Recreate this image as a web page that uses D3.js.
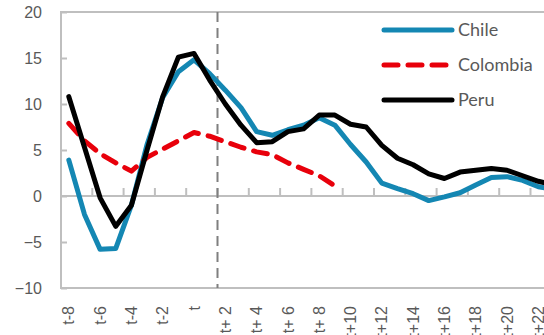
<!DOCTYPE html>
<html>
<head>
<meta charset="utf-8">
<style>
body { margin: 0; background: #fff; }
svg { display: block; font-family: Lato, "Open Sans", sans-serif; }
.tick text { fill: #595959; }
.legend text { fill: #595959; font-size: 18px; }
</style>
<script src="https://d3js.org/d3.v7.min.js"></script>
</head>
<body>
<svg width="544" height="335"></svg>
<script>

// categories t-8 .. t+24 (the chart runs past the right edge of the picture)
var periods = ["t-8","t-7","t-6","t-5","t-4","t-3","t-2","t-1","t",
  "t+ 1","t+ 2","t+ 3","t+ 4","t+ 5","t+ 6","t+ 7","t+ 8","t+ 9","t+10",
  "t+11","t+12","t+13","t+14","t+15","t+16","t+17","t+18","t+19","t+20",
  "t+21","t+22","t+23","t+24"];

var chile = [3.9,-2.0,-5.8,-5.7,-1.0,5.6,10.7,13.5,14.8,13.3,11.5,9.6,7.0,6.6,7.2,7.7,
  8.5,7.7,5.6,3.7,1.4,0.8,0.25,-0.5,-0.1,0.35,1.2,2.0,2.1,1.7,1.0,0.7];
var colombia = [7.9,6.0,4.6,3.6,2.7,4.2,5.1,6.0,6.9,6.5,5.9,5.3,4.8,4.5,3.6,2.9,2.2,1.1];
var peru = [10.8,5.3,-0.2,-3.3,-1.0,5.0,10.8,15.1,15.5,12.6,10.0,7.7,5.8,5.9,7.0,7.3,
  8.8,8.8,7.8,7.5,5.5,4.1,3.4,2.4,1.9,2.6,2.8,3.0,2.8,2.2,1.6,1.2];

var yTicks = [-10,-5,0,5,10,15,20];
var eventAt = "t+ 2";

var svg = d3.select("svg");
var padL = 61, padT = 12, padB = 288, step = 15.65;

var x = d3.scaleBand().domain(periods).range([padL, padL + periods.length * step]);
var y = d3.scaleLinear().domain([-10, 20]).range([padB, padT]);
var cx = function(i) { return x(periods[i]) + x.bandwidth() / 2; };

// plot frame
svg.append("rect")
  .attr("x", padL).attr("y", padT)
  .attr("width", x.range()[1] - padL).attr("height", padB - padT)
  .attr("fill", "none").attr("stroke", "#bfbfbf").attr("stroke-width", 2);

// y axis
var yAxis = svg.append("g")
  .attr("transform", "translate(" + padL + ",0)")
  .call(d3.axisLeft(y).tickValues(yTicks).tickSizeInner(-6).tickSizeOuter(0).tickPadding(19));
yAxis.select(".domain").remove();
yAxis.selectAll("line").attr("stroke", "#bfbfbf").attr("stroke-width", 2);
yAxis.selectAll("text").style("font-size", "16px");

// zero line with ticks every second category boundary
var z = svg.append("g");
z.append("line")
  .attr("x1", padL).attr("x2", x.range()[1])
  .attr("y1", y(0)).attr("y2", y(0))
  .attr("stroke", "#bfbfbf").attr("stroke-width", 2);
z.selectAll(".zt")
  .data(periods.filter(function(d, i) { return i % 2 == 0 && i > 0; }))
  .enter().append("line")
  .attr("x1", function(d) { return x(d); }).attr("x2", function(d) { return x(d); })
  .attr("y1", y(0) - 8).attr("y2", y(0))
  .attr("stroke", "#bfbfbf").attr("stroke-width", 2);

// category labels, rotated, at the bottom
var xAxis = svg.append("g")
  .attr("transform", "translate(0," + padB + ")")
  .call(d3.axisBottom(x).tickValues(periods.filter(function(d, i) { return i % 2 == 0; })).tickSize(0));
xAxis.select(".domain").remove();
xAxis.selectAll("text")
  .style("font-size", "16px")
  .attr("text-anchor", "end")
  .attr("dy", "0.35em")
  .attr("transform", "translate(0,18) rotate(-90)")
  .attr("x", 0).attr("y", 0);

// event marker
svg.append("line")
  .attr("x1", x(eventAt)).attr("x2", x(eventAt))
  .attr("y1", padT).attr("y2", padB)
  .attr("stroke", "#7f7f7f").attr("stroke-width", 2)
  .attr("stroke-dasharray", "10,6");

var line = d3.line()
  .x(function(d, i) { return cx(i); })
  .y(function(d) { return y(d); });

var series = [
  { name: "Chile", values: chile, color: "#1487b3", dash: null },
  { name: "Colombia", values: colombia, color: "#e8000b", dash: "14,10" },
  { name: "Peru", values: peru, color: "#000000", dash: null }
];

svg.selectAll(".series")
  .data(series)
  .enter().append("path")
  .attr("class", "series")
  .attr("d", function(d) { return line(d.values); })
  .attr("fill", "none")
  .attr("stroke", function(d) { return d.color; })
  .attr("stroke-width", 5)
  .attr("stroke-linejoin", "round")
  .attr("stroke-linecap", "round")
  .attr("stroke-dasharray", function(d) { return d.dash; });

// legend
var legend = svg.selectAll(".legend")
  .data(series)
  .enter().append("g")
  .attr("class", "legend")
  .attr("transform", function(d, i) { return "translate(384," + (30 + i * 35) + ")"; });

legend.append("line")
  .attr("x1", 0).attr("x2", 68)
  .attr("stroke", function(d) { return d.color; })
  .attr("stroke-width", 5)
  .attr("stroke-linecap", "round")
  .attr("stroke-dasharray", function(d) { return d.dash; });

legend.append("text")
  .attr("x", 74).attr("y", 6)
  .text(function(d) { return d.name; });

</script>
</body>
</html>
